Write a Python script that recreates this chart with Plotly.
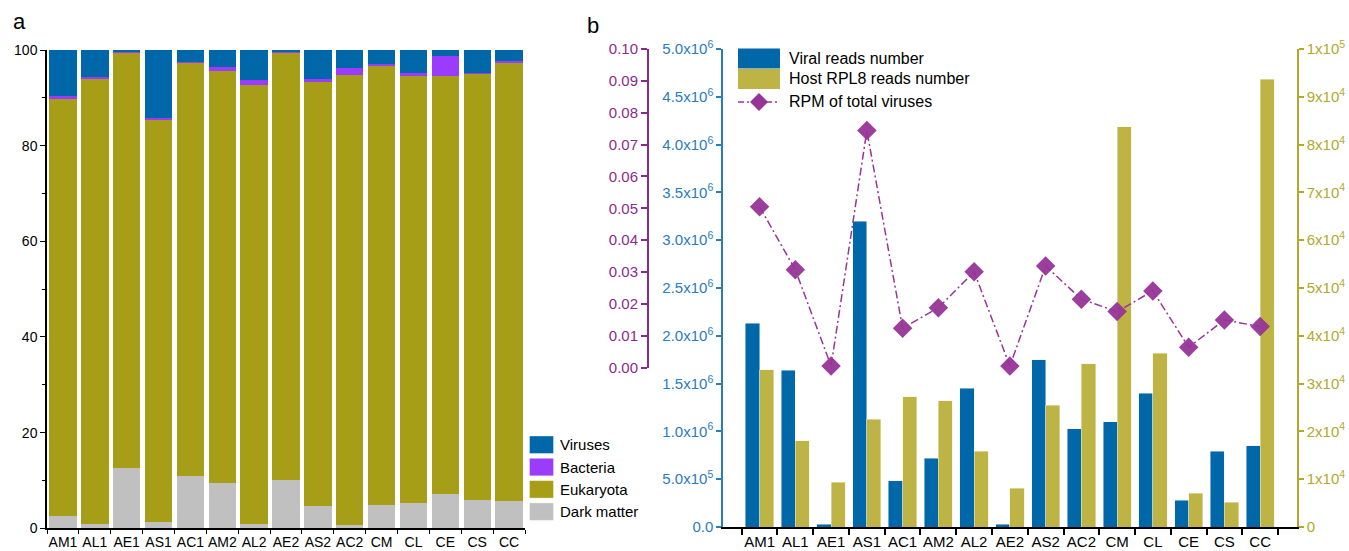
import plotly.graph_objects as go

W, H = 1349, 551

# ---------------- data ----------------
samples = ['AM1', 'AL1', 'AE1', 'AS1', 'AC1', 'AM2', 'AL2', 'AE2', 'AS2', 'AC2', 'CM', 'CL', 'CE', 'CS', 'CC']

# panel a: composition (%)
dark_matter = [2.6, 1.0, 12.7, 1.3, 10.9, 9.5, 0.9, 10.1, 4.6, 0.6, 4.9, 5.35, 7.2, 5.9, 5.7]
eukaryota = [87.1, 93.1, 86.75, 84.1, 86.45, 86.2, 91.8, 89.35, 88.9, 94.2, 91.9, 89.25, 87.4, 89.1, 91.75]
bacteria = [0.7, 0.3, 0.2, 0.45, 0.15, 0.7, 1.0, 0.2, 0.4, 1.4, 0.3, 0.5, 4.2, 0.25, 0.15]
viruses = [9.6, 5.6, 0.35, 14.15, 2.5, 3.6, 6.3, 0.35, 6.1, 3.8, 2.9, 4.9, 1.2, 4.75, 2.4]

# panel b
viral_reads = [2.13e6, 1.64e6, 0.03e6, 3.20e6, 0.485e6, 0.72e6, 1.45e6, 0.03e6, 1.75e6, 1.03e6,
               1.10e6, 1.40e6, 0.28e6, 0.79e6, 0.85e6]
host_rpl8_reads = [32900, 18000, 9350, 22500, 27300, 26400, 15900, 8150, 25500, 34200,
                   83700, 36400, 7050, 5170, 93700]
rpm_total_viruses = [0.0505, 0.0307, 0.0005, 0.0744, 0.0124, 0.0188, 0.0301, 0.0005, 0.0319, 0.0215,
                     0.0176, 0.0241, 0.0064, 0.0150, 0.0129]

# tick labels
a_yticks = [0, 20, 40, 60, 80, 100]
a_yminor = [10, 30, 50, 70, 90]
blue_tickvals = [0, 5e5, 1e6, 1.5e6, 2e6, 2.5e6, 3e6, 3.5e6, 4e6, 4.5e6, 5e6]
blue_ticktext = ['0.0', '5.0x10<sup>5</sup>', '1.0x10<sup>6</sup>', '1.5x10<sup>6</sup>', '2.0x10<sup>6</sup>',
                 '2.5x10<sup>6</sup>', '3.0x10<sup>6</sup>', '3.5x10<sup>6</sup>', '4.0x10<sup>6</sup>',
                 '4.5x10<sup>6</sup>', '5.0x10<sup>6</sup>']
olive_tickvals = [0, 1e4, 2e4, 3e4, 4e4, 5e4, 6e4, 7e4, 8e4, 9e4, 1e5]
olive_ticktext = ['0', '1x10<sup>4</sup>', '2x10<sup>4</sup>', '3x10<sup>4</sup>', '4x10<sup>4</sup>',
                  '5x10<sup>4</sup>', '6x10<sup>4</sup>', '7x10<sup>4</sup>', '8x10<sup>4</sup>',
                  '9x10<sup>4</sup>', '1x10<sup>5</sup>']
purple_tickvals = [0, 0.01, 0.02, 0.03, 0.04, 0.05, 0.06, 0.07, 0.08, 0.09, 0.10]
purple_ticktext = ['0.00', '0.01', '0.02', '0.03', '0.04', '0.05', '0.06', '0.07', '0.08', '0.09', '0.10']

# ---------------- styles ----------------
C_VIR = '#0068a8'
C_BAC = '#9b3cfc'
C_EUK = '#a69e17'
C_DARK = '#c0c0c0'
C_HOST = '#bdb445'
C_RPM = '#973597'
C_BLUE_AX = '#2b7bbf'
C_PURP_AX = '#8b2a8e'
C_OLIVE_AX = '#b1a92c'
FONT = 'Arial, Liberation Sans, Helvetica, sans-serif'


def px_x(p):
    return p / W


def px_y(p):
    return 1 - p / H


fig = go.Figure()

# panel a stacked bars (bottom to top)
a_series = [('Dark matter', dark_matter, C_DARK), ('Eukaryota', eukaryota, C_EUK),
            ('Bacteria', bacteria, C_BAC), ('Viruses', viruses, C_VIR)]
for name, vals, col in a_series:
    fig.add_trace(go.Bar(x=samples, y=vals, name=name, marker=dict(color=col, line=dict(width=0)),
                         xaxis='x', yaxis='y', showlegend=False))

# panel b bars
fig.add_trace(go.Bar(x=samples, y=viral_reads, name='Viral reads number', xaxis='x2', yaxis='y2',
                     width=0.395, offset=-0.395,
                     marker=dict(color=C_VIR, line=dict(width=0.5, color='#e8eef5')), showlegend=False))
fig.add_trace(go.Bar(x=samples, y=host_rpl8_reads, name='Host RPL8 reads number', xaxis='x2', yaxis='y4',
                     width=0.395, offset=0.0,
                     marker=dict(color=C_HOST, line=dict(width=0.5, color='#f2f0d8')), showlegend=False))
fig.add_trace(go.Scatter(x=samples, y=rpm_total_viruses, name='RPM of total viruses', xaxis='x2', yaxis='y3',
                         mode='lines+markers', cliponaxis=False,
                         line=dict(color=C_RPM, width=1.5, dash='8px,3px,2px,3px'),
                         marker=dict(symbol='diamond', size=15, color=C_RPM, opacity=0.95,
                                     line=dict(width=0)),
                         showlegend=False))

tickfont_black = dict(family=FONT, size=14, color='black')

fig.update_layout(
    width=W, height=H,
    margin=dict(l=0, r=0, t=0, b=0, autoexpand=False),
    paper_bgcolor='white', plot_bgcolor='rgba(0,0,0,0)',
    barmode='stack', bargap=0.14, showlegend=False,
    font=dict(family=FONT, size=14, color='black'),
    xaxis=dict(domain=[px_x(47), px_x(525)], anchor='y', type='category', categoryorder='array',
               categoryarray=samples, range=[-0.5, 14.5], tickson='boundaries', ticks='outside',
               ticklen=4, tickwidth=1.2, tickcolor='black', showline=True, linecolor='black',
               linewidth=1.5, showgrid=False, zeroline=False, tickfont=tickfont_black,
               tickangle=0, automargin=False),
    yaxis=dict(domain=[px_y(528.3), px_y(50)], anchor='x', range=[0, 100], tickvals=a_yticks,
               ticks='outside', ticklen=5, tickwidth=1.2, tickcolor='black',
               minor=dict(tickvals=a_yminor, ticks='outside', ticklen=3, tickwidth=1.2, tickcolor='black'),
               showline=True, linecolor='black', linewidth=1.5, showgrid=False, zeroline=False,
               tickfont=tickfont_black, automargin=False),
    xaxis2=dict(domain=[px_x(723), px_x(1297)], anchor='y2', type='category', categoryorder='array',
                categoryarray=samples, range=[-1.023, 15.03], tickson='boundaries', ticks='outside',
                ticklen=6, tickwidth=1.5, tickcolor='black', showline=True, linecolor='black',
                linewidth=1.5, showgrid=False, zeroline=False, tickfont=dict(family=FONT, size=15, color='black'),
                tickangle=0, automargin=False),
    yaxis2=dict(domain=[px_y(527), px_y(49)], anchor='x2', range=[0, 5e6], tickvals=blue_tickvals,
                ticktext=blue_ticktext, ticks='outside', ticklen=5, tickwidth=1.5, tickcolor=C_BLUE_AX,
                showline=True, linecolor=C_BLUE_AX, linewidth=1.5, showgrid=False, zeroline=False,
                tickfont=dict(family=FONT, size=15, color=C_BLUE_AX), automargin=False),
    yaxis3=dict(domain=[px_y(367.7), px_y(49)], anchor='free', position=px_x(648), side='left',
                range=[0, 0.1], tickvals=purple_tickvals, ticktext=purple_ticktext, ticks='outside',
                ticklen=6, tickwidth=1.5, tickcolor=C_PURP_AX, showline=True, linecolor=C_PURP_AX,
                linewidth=2, showgrid=False, zeroline=False,
                tickfont=dict(family=FONT, size=15, color=C_PURP_AX), automargin=False),
    yaxis4=dict(overlaying='y2', anchor='x2', side='right', range=[0, 1e5], tickvals=olive_tickvals,
                ticktext=olive_ticktext, ticks='outside', ticklen=5, tickwidth=1.5, tickcolor=C_OLIVE_AX,
                showline=True, linecolor=C_OLIVE_AX, linewidth=1.5, showgrid=False, zeroline=False,
                tickfont=dict(family=FONT, size=15, color=C_OLIVE_AX), automargin=False),
)

shapes = []
annotations = []

# panel letters
annotations.append(dict(text='a', x=px_x(11), y=px_y(22), xref='paper', yref='paper', xanchor='left',
                        yanchor='middle', showarrow=False, font=dict(family=FONT, size=22, color='black')))
annotations.append(dict(text='b', x=px_x(585), y=px_y(25), xref='paper', yref='paper', xanchor='left',
                        yanchor='middle', showarrow=False, font=dict(family=FONT, size=22, color='black')))

# panel a legend (top to bottom)
a_legend = [('Viruses', C_VIR), ('Bacteria', C_BAC), ('Eukaryota', C_EUK), ('Dark matter', C_DARK)]
for i, (name, col) in enumerate(a_legend):
    top = 436 + i * 22.3
    shapes.append(dict(type='rect', xref='paper', yref='paper', x0=px_x(529.5), x1=px_x(553.5),
                       y0=px_y(top + 17.5), y1=px_y(top), fillcolor=col,
                       line=dict(width=0.6, color='rgba(255,255,255,0.6)')))
    annotations.append(dict(text=name, x=px_x(558), y=px_y(top + 8.8), xref='paper', yref='paper',
                            xanchor='left', yanchor='middle', showarrow=False,
                            font=dict(family=FONT, size=15, color='black')))

# panel b legend
b_legend = [('Viral reads number', C_VIR), ('Host RPL8 reads number', C_HOST)]
for i, (name, col) in enumerate(b_legend):
    top = 48.5 + i * 20.5
    shapes.append(dict(type='rect', xref='paper', yref='paper', x0=px_x(738), x1=px_x(780),
                       y0=px_y(top + 20), y1=px_y(top), fillcolor=col, line=dict(width=0)))
    annotations.append(dict(text=name, x=px_x(787), y=px_y(top + 10), xref='paper', yref='paper',
                            xanchor='left', yanchor='middle', showarrow=False,
                            font=dict(family=FONT, size=16, color='black')))
ly = 102
shapes.append(dict(type='line', xref='paper', yref='paper', x0=px_x(738), x1=px_x(780), y0=px_y(ly),
                   y1=px_y(ly), line=dict(color=C_RPM, width=1.5, dash='6px,3px,2px,3px')))
d = 9
shapes.append(dict(type='path', xref='paper', yref='paper',
                   path=f'M {px_x(759 - d)},{px_y(ly)} L {px_x(759)},{px_y(ly - d)} L {px_x(759 + d)},{px_y(ly)} '
                        f'L {px_x(759)},{px_y(ly + d)} Z',
                   fillcolor=C_RPM, line=dict(width=0)))
annotations.append(dict(text='RPM of total viruses', x=px_x(787), y=px_y(ly), xref='paper', yref='paper',
                        xanchor='left', yanchor='middle', showarrow=False,
                        font=dict(family=FONT, size=16, color='black')))

fig.update_layout(shapes=shapes, annotations=annotations)

fig.write_html('out.html')
